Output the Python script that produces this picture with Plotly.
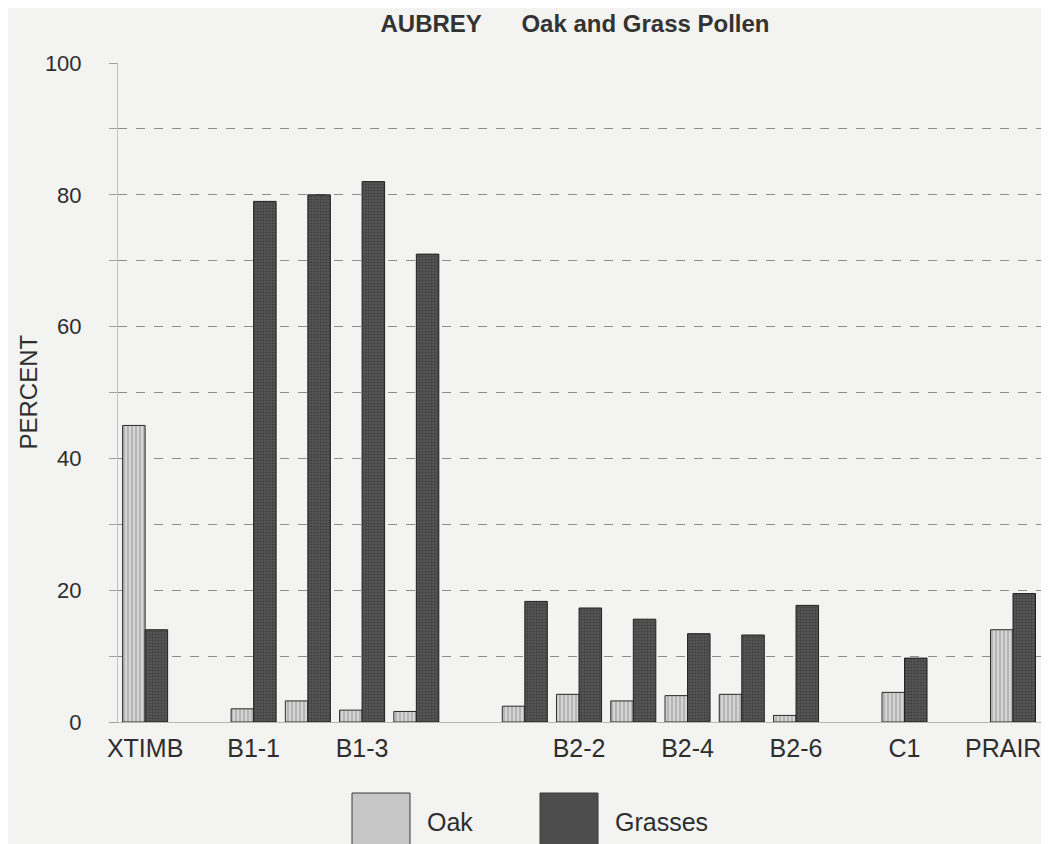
import plotly.graph_objects as go

categories = ["XTIMB", "gap-1", "B1-1", "B1-2", "B1-3", "B1-4", "gap-2", "B2-1", "B2-2",
              "B2-3", "B2-4", "B2-5", "B2-6", "gap-3", "C1", "gap-4", "PRAIR"]
tick_labels = ["XTIMB", "B1-1", "B1-3", "", "B2-2", "B2-4", "B2-6", "C1", "PRAIR"]
oak = [45, None, 2, 3.2, 1.8, 1.6, None, 2.4, 4.2, 3.2, 4.0, 4.2, 1.0, None, 4.5, None, 14]
grasses = [14, None, 79, 80, 82, 71, None, 18.3, 17.3, 15.6, 13.4, 13.2, 17.7, None, 9.7, None, 19.5]
series_names = ["Oak", "Grasses"]
legend_fill = ["#c6c6c6", "#4d4d4d"]

font_family = "Liberation Sans, Arial, sans-serif"
txt = "#2e2e2e"
bg = "#f3f3f1"
grid = "#8e8e8e"

W, H = 1041, 836
L, R, T, B = 110, 6, 55, 122

fig = go.Figure()
fig.add_trace(go.Bar(
    name=series_names[0], x=categories, y=oak,
    marker=dict(color="#cfcfcf", line=dict(color="#2a2a2a", width=1),
                pattern=dict(shape="|", fgcolor="#7a7a7a", bgcolor="#d4d4d4", size=4, solidity=0.35)),
))
fig.add_trace(go.Bar(
    name=series_names[1], x=categories, y=grasses,
    marker=dict(color="#4a4a4a", line=dict(color="#222222", width=1),
                pattern=dict(shape=".", fgcolor="#2a2a2a", bgcolor="#555555", size=3, solidity=0.4)),
))

# legend drawn as large swatches below the plot (paper coordinates)
pw, ph = W - L - R, H - T - B
def px_x(v):
    return (v - L) / pw
def px_y(v):
    return (H - B - v) / ph

swatch_left = [344, 532]
text_left = [417, 605]
for name, fill, sl, tl in zip(series_names, legend_fill, swatch_left, text_left):
    fig.add_shape(type="rect", xref="paper", yref="paper",
                  x0=px_x(sl), x1=px_x(sl + 58), y0=px_y(785), y1=px_y(838),
                  fillcolor=fill, line=dict(color="#3a3a3a", width=1))
    fig.add_annotation(text=name, xref="paper", yref="paper", x=px_x(tl), y=px_y(814),
                       xanchor="left", yanchor="middle", showarrow=False,
                       font=dict(size=25, color=txt, family=font_family))

# y-axis title
fig.add_annotation(text="PERCENT", xref="paper", yref="paper", x=px_x(20), y=0.5,
                   xanchor="center", yanchor="middle", textangle=-90, showarrow=False,
                   font=dict(size=24, color=txt, family=font_family))

# last category label kept inside the page (the reference pushes it against the right edge)
tick_text = tick_labels[:-1] + [""]
fig.add_annotation(text=tick_labels[-1], xref="x", yref="paper", x=categories[-1], y=0,
                   xanchor="right", yanchor="middle", xshift=30, yshift=-26, showarrow=False,
                   font=dict(size=25, color=txt, family=font_family))

fig.update_layout(
    width=W, height=H,
    paper_bgcolor=bg, plot_bgcolor=bg,
    margin=dict(l=L, r=R, t=T, b=B, autoexpand=False),
    barmode="group", bargap=0.17, bargroupgap=0,
    font=dict(family=font_family, color=txt, size=20),
    title=dict(text="<b>AUBREY      Oak and Grass Pollen</b>", x=567 / W, xanchor="center",
               y=1 - 15.5 / H, yanchor="middle", font=dict(size=24, color="#333333")),
    showlegend=False,
)
fig.update_xaxes(
    type="category", categoryorder="array", categoryarray=categories,
    tickmode="array", tickvals=categories[::2], ticktext=tick_text,
    tickfont=dict(size=25, color=txt), ticks="", ticklabelstandoff=4, showgrid=False,
    showline=True, linecolor="#b5b5b5", linewidth=1, zeroline=False, automargin=False,
)
fig.update_yaxes(
    range=[0, 100], tickmode="array", tickvals=[0, 20, 40, 60, 80, 100],
    tickfont=dict(size=22, color=txt), ticks="outside", ticklen=8, tickcolor="#a0a0a0",
    ticklabelstandoff=23, automargin=False,
    showgrid=True, gridcolor=grid, griddash="dash", gridwidth=1,
    minor=dict(tickmode="array", tickvals=[10, 30, 50, 70, 90], showgrid=True,
               gridcolor=grid, griddash="dash", gridwidth=1, ticks="outside", ticklen=8,
               tickcolor="#a0a0a0"),
    zeroline=False, showline=True, linecolor="#c0c0c0", linewidth=1,
)

fig.write_html("out.html")
